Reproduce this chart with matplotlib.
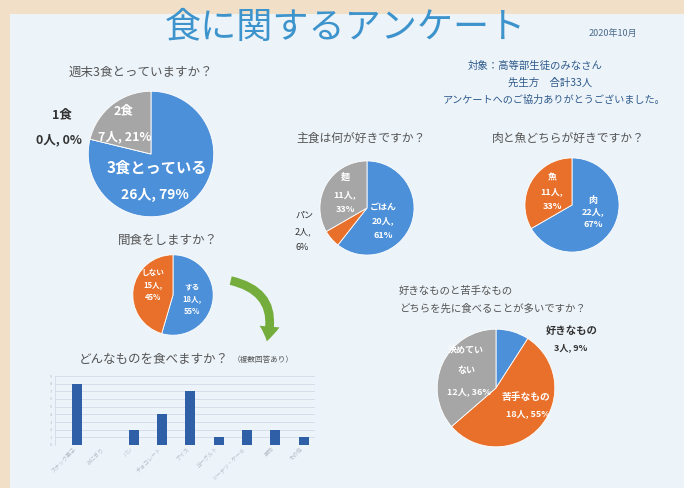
import matplotlib
matplotlib.use("Agg")
import matplotlib.pyplot as plt
from matplotlib.patches import Rectangle, FancyArrowPatch

plt.rcParams['font.family'] = ['Noto Sans CJK JP', 'DejaVu Sans']

W, H = 684, 488
TOTAL = 33

# 週末3食とっていますか？
meals_labels = ["3食とっている", "1食", "2食"]
meals_counts = [26, 0, 7]

# 主食は何が好きですか？
staple_labels = ["ごはん", "パン", "麺"]
staple_counts = [20, 2, 11]

# 肉と魚どちらが好きですか？
meat_labels = ["肉", "魚"]
meat_counts = [22, 11]

# 間食をしますか？
snack_labels = ["する", "しない"]
snack_counts = [18, 15]

# 好きなものと苦手なもの どちらを先に食べることが多いですか？
order_labels = ["好きなもの", "苦手なもの", "決めていない"]
order_counts = [3, 18, 12]

# どんなものを食べますか？（複数回答あり）
food_labels = ["スナック菓子", "おにぎり", "パン", "チョコレート", "アイス",
               "ヨーグルト", "ドーナツ・ケーキ", "果物", "その他"]
food_counts = [8, 0, 2, 4, 7, 1, 2, 2, 1]

BLUE = "#4d90da"
ORANGE = "#e8702a"
GRAY = "#a6a6a6"
BAR = "#2f5fa6"
TXT = "#555555"
DARK = "#333333"


def fx(x):
    return x / W


def fy(y):
    return 1 - y / H


def pct(n):
    return round(n / TOTAL * 100)


def txt(x, y, s, size=7, color=TXT, weight="normal", ha="center"):
    fig.text(fx(x), fy(y), s, fontsize=size, color=color, fontweight=weight,
             ha=ha, va="center")


def pie_axes(cx, cy, r, counts, colors):
    ax = fig.add_axes([fx(cx - r), fy(cy + r), 2 * r / W, 2 * r / H])
    ax.pie(counts, colors=colors, startangle=90, counterclock=False, radius=1,
           wedgeprops=dict(edgecolor="white", linewidth=0.6))
    ax.set_xlim(-1.02, 1.02)
    ax.set_ylim(-1.02, 1.02)
    ax.axis("off")
    return ax


fig = plt.figure(figsize=(W / 100, H / 100), dpi=100)
fig.patch.set_facecolor("#f2dfc7")
fig.patches.append(Rectangle((fx(10), 0), 1, fy(14), transform=fig.transFigure,
                             facecolor="#ecf3f9", edgecolor="none", zorder=-5))

# header
txt(345, 28, "食に関するアンケート", size=26, color="#3d93cc")
txt(613, 33, "2020年10月", size=6.5, color="#4a6a8a")
txt(535, 66, "対象：高等部生徒のみなさん", size=7.5, color="#2f5b8c")
txt(550, 83, "先生方　合計33人", size=7.5, color="#2f5b8c")
txt(554, 100, "アンケートへのご協力ありがとうございました。", size=7.3, color="#2f5b8c")

# pie 1
pie_axes(151, 154, 64, meals_counts, [BLUE, ORANGE, GRAY])
txt(141, 72, "週末3食とっていますか？", size=9)
txt(157, 168, meals_labels[0], size=11, color="white", weight="bold")
txt(155, 195, f"{meals_counts[0]}人, {pct(meals_counts[0])}%", size=10, color="white", weight="bold")
txt(124, 111, meals_labels[2], size=9, color="white", weight="bold")
txt(125, 137, f"{meals_counts[2]}人, {pct(meals_counts[2])}%", size=9, color="white", weight="bold")
txt(62, 115, meals_labels[1], size=9, color=DARK, weight="bold")
txt(59, 140, f"{meals_counts[1]}人, {pct(meals_counts[1])}%", size=9, color=DARK, weight="bold")

# pie 2
pie_axes(367, 208, 48, staple_counts, [BLUE, ORANGE, GRAY])
txt(361, 138, "主食は何が好きですか？", size=8.5)
txt(383, 207, staple_labels[0], size=6.5, color="white", weight="bold")
txt(383, 221, f"{staple_counts[0]}人,", size=6.5, color="white", weight="bold")
txt(383, 235, f"{pct(staple_counts[0])}%", size=6.5, color="white", weight="bold")
txt(345, 177, staple_labels[2], size=6.5, color="white", weight="bold")
txt(345, 195, f"{staple_counts[2]}人,", size=6.5, color="white", weight="bold")
txt(345, 210, f"{pct(staple_counts[2])}%", size=6.5, color="white", weight="bold")
txt(304, 215, staple_labels[1], size=6.5, color=DARK)
txt(303, 232, f"{staple_counts[1]}人,", size=6.5, color=DARK)
txt(302, 248, f"{pct(staple_counts[1])}%", size=6.5, color=DARK)

# pie 3
pie_axes(572, 205, 48, meat_counts, [BLUE, ORANGE])
txt(568, 138, "肉と魚どちらが好きですか？", size=8.5)
txt(593, 200, meat_labels[0], size=6.5, color="white", weight="bold")
txt(593, 212, f"{meat_counts[0]}人,", size=6.5, color="white", weight="bold")
txt(593, 224, f"{pct(meat_counts[0])}%", size=6.5, color="white", weight="bold")
txt(552, 178, meat_labels[1], size=6.5, color="white", weight="bold")
txt(552, 192, f"{meat_counts[1]}人,", size=6.5, color="white", weight="bold")
txt(552, 206, f"{pct(meat_counts[1])}%", size=6.5, color="white", weight="bold")

# pie 4
pie_axes(173, 295, 41, snack_counts, [BLUE, ORANGE])
txt(168, 240, "間食をしますか？", size=9)
txt(192, 287, snack_labels[0], size=5.5, color="white", weight="bold")
txt(192, 299, f"{snack_counts[0]}人,", size=5.5, color="white", weight="bold")
txt(192, 311, f"{pct(snack_counts[0])}%", size=5.5, color="white", weight="bold")
txt(153, 272, snack_labels[1], size=5.5, color="white", weight="bold")
txt(153, 285, f"{snack_counts[1]}人,", size=5.5, color="white", weight="bold")
txt(153, 297, f"{pct(snack_counts[1])}%", size=5.5, color="white", weight="bold")

# green arrow
arrow = FancyArrowPatch((fx(228), fy(280)), (fx(266), fy(344)), transform=fig.transFigure,
                        connectionstyle="arc3,rad=-0.55",
                        arrowstyle="simple,head_width=1.6,head_length=1.2,tail_width=0.7",
                        mutation_scale=9, color="#74ad3c", lw=0)
fig.patches.append(arrow)

# pie 5
pie_axes(496, 388, 60, order_counts, [BLUE, ORANGE, GRAY])
txt(399, 291, "好きなものと苦手なもの", size=7.5, ha="left")
txt(399, 309, "どちらを先に食べることが多いですか？", size=7.5, ha="left")
txt(572, 331, order_labels[0], size=7.5, color=DARK, weight="bold")
txt(571, 348, f"{order_counts[0]}人, {pct(order_counts[0])}%", size=6.5, color=DARK, weight="bold")
txt(526, 397, order_labels[1], size=7, color="white", weight="bold")
txt(528, 414, f"{order_counts[1]}人, {pct(order_counts[1])}%", size=6.5, color="white", weight="bold")
txt(466, 350, "決めてい", size=6.5, color="white", weight="bold")
txt(466, 371, "ない", size=6.5, color="white", weight="bold")
txt(469, 392, f"{order_counts[2]}人, {pct(order_counts[2])}%", size=6.5, color="white", weight="bold")

# bar chart
txt(154, 360, "どんなものを食べますか？", size=9)
txt(263, 360, "（複数回答あり）", size=5.5)
bx = fig.add_axes([fx(55), fy(445), (315 - 55) / W, (445 - 376) / H])
bx.set_facecolor("none")
xs = list(range(len(food_labels)))
bx.bar(xs, food_counts, width=0.36, color=BAR, zorder=3)
bx.set_xlim(-0.78, 8.4)
bx.set_ylim(0, 9)
bx.set_yticks(range(0, 10))
bx.yaxis.grid(True, color="#d2dbe6", linewidth=0.6, zorder=0)
bx.set_xticks(xs)
bx.set_xticklabels(food_labels, rotation=45, ha="right", fontsize=4, color="#b5bcc6")
bx.tick_params(axis="y", labelsize=3, colors="#b5bcc6", length=0, pad=2)
bx.tick_params(axis="x", length=0, pad=1)
for s in ["top", "right", "bottom"]:
    bx.spines[s].set_visible(False)
bx.spines["left"].set_color("#d2dbe6")
bx.spines["left"].set_linewidth(0.6)

fig.savefig("out.png", dpi=100, facecolor=fig.get_facecolor())
